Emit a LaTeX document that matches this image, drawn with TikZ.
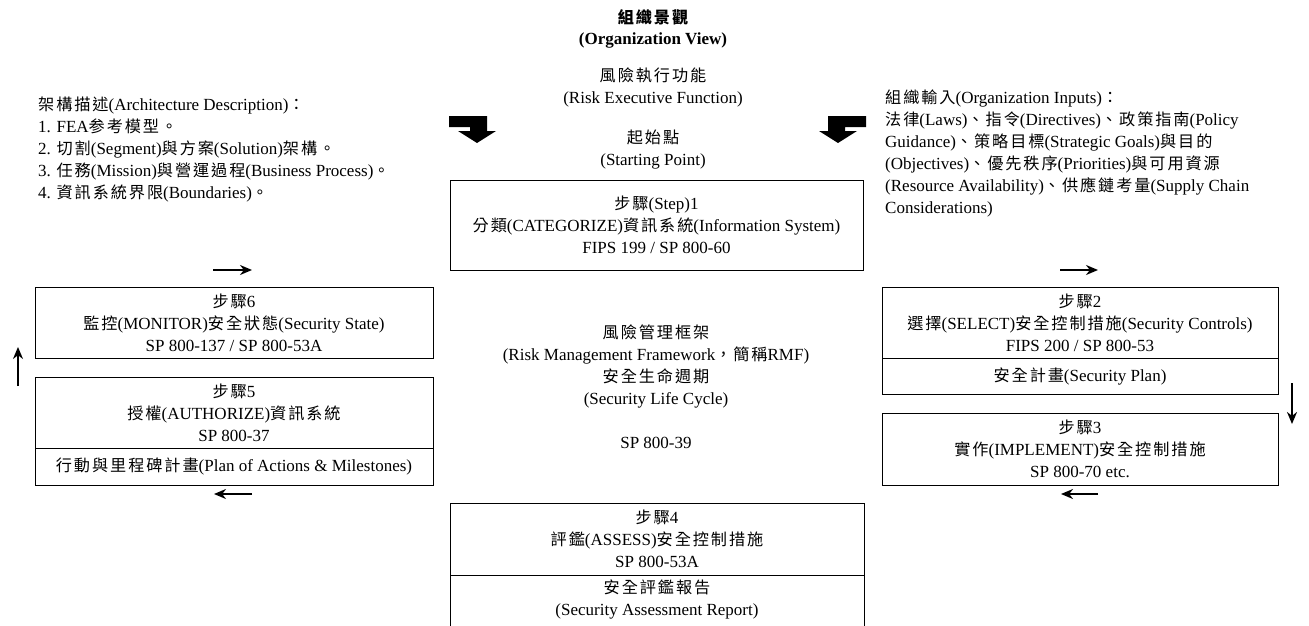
\documentclass[tikz,border=0pt]{standalone}
\usepackage{fontspec}
\setmainfont{Liberation Serif}
\newfontfamily\cjk{Noto Sans CJK TC}[Scale=0.95,LetterSpace=12]
\newcommand\C[1]{{\cjk #1}}
\usetikzlibrary{arrows.meta}
\begin{document}
\begin{tikzpicture}[x=1pt,y=-1pt,
  box/.style={draw=black, line width=1pt, inner sep=0pt, align=center, font=\fontsize{17}{22}\selectfont},
  txt/.style={inner sep=0pt, align=center, font=\fontsize{17}{22}\selectfont},
  ltxt/.style={inner sep=0pt, align=left, font=\fontsize{17}{22}\selectfont},
  flow/.style={line width=2.2pt, -{Stealth[length=12pt,width=10pt]}},
  bigarrow/.style={fill=black, draw=none}]
\useasboundingbox[fill=white] (0,0) rectangle (1309,626);

% titles
\node[txt, font=\fontsize{17}{21}\selectfont\bfseries] (title) at (653,29) {\C{組織景觀}\\(Organization View)};
\node[txt] (ref) at (653,87) {\C{風險執行功能}\\(Risk Executive Function)};
\node[txt] (start) at (653,150) {\C{起始點}\\(Starting Point)};

% thick arrows
\fill[bigarrow] (449,116) -- (487,116) -- (487,131) -- (496,131) -- (477,143) -- (458,131) -- (470,131) -- (470,127) -- (449,127) -- cycle;
\fill[bigarrow] (866,116) -- (828,116) -- (828,131) -- (819,131) -- (838,143) -- (857,131) -- (845,131) -- (845,127) -- (866,127) -- cycle;

% side texts
\node[ltxt, anchor=west] (arch) at (38,150) {\C{架構描述}(Architecture Description)\C{：}\\
1. FEA\C{参考模型。}\\
2. \C{切割}(Segment)\C{與方案}(Solution)\C{架構。}\\
3. \C{任務}(Mission)\C{與營運過程}(Business Process)\C{。}\\
4. \C{資訊系統界限}(Boundaries)\C{。}};
\node[ltxt, anchor=west] (inputs) at (885,153) {\C{組織輸入}(Organization Inputs)\C{：}\\
\C{法律}(Laws)\C{、指令}(Directives)\C{、政策指南}(Policy\\
Guidance)\C{、策略目標}(Strategic Goals)\C{與目的}\\
(Objectives)\C{、優先秩序}(Priorities)\C{與可用資源}\\
(Resource Availability)\C{、供應鏈考量}(Supply Chain\\
Considerations)};

% step boxes
\node[box, minimum width=413pt, minimum height=90pt] (s1) at (656.5,225) {\C{步驟}(Step)1\\\C{分類}(CATEGORIZE)\C{資訊系統}(Information System)\\FIPS 199 / SP 800-60};

\node[box, minimum width=398pt, minimum height=71pt] (s6) at (234,322.5) {\C{步驟}6\\\C{監控}(MONITOR)\C{安全狀態}(Security State)\\SP 800-137 / SP 800-53A};
\node[box, minimum width=398pt, minimum height=71pt] (s5) at (234,412.5) {\C{步驟}5\\\C{授權}(AUTHORIZE)\C{資訊系統}\\SP 800-37};
\node[box, minimum width=398pt, minimum height=37pt] (s5b) at (234,466.5) {\C{行動與里程碑計畫}(Plan of Actions \& Milestones)};

\node[box, minimum width=396pt, minimum height=71pt] (s2) at (1080,322.5) {\C{步驟}2\\\C{選擇}(SELECT)\C{安全控制措施}(Security Controls)\\FIPS 200 / SP 800-53};
\node[box, minimum width=396pt, minimum height=36pt] (s2b) at (1080,376) {\C{安全計畫}(Security Plan)};
\node[box, minimum width=396pt, minimum height=72pt] (s3) at (1080,449) {\C{步驟}3\\\C{實作}(IMPLEMENT)\C{安全控制措施}\\SP 800-70 etc.};

\node[box, minimum width=414pt, minimum height=72pt] (s4) at (657,539) {\C{步驟}4\\\C{評鑑}(ASSESS)\C{安全控制措施}\\SP 800-53A};
\node[box, minimum width=414pt, minimum height=75pt] (s4b) at (657,612.5) {};
\node[txt] (s4t) at (657,599) {\C{安全評鑑報告}\\(Security Assessment Report)};

% center text
\node[txt] (rmf) at (656,387) {\C{風險管理框架}\\(Risk Management Framework\C{，簡稱}RMF)\\\C{安全生命週期}\\(Security Life Cycle)\\[22pt]SP 800-39};

% small flow arrows
\coordinate (a1s) at (213,270); \coordinate (a1e) at (252,270);
\coordinate (a2s) at (1060,270); \coordinate (a2e) at (1098,270);
\coordinate (a3s) at (1292,383); \coordinate (a3e) at (1292,424);
\coordinate (a4s) at (1098,494); \coordinate (a4e) at (1061,494);
\coordinate (a5s) at (252,494); \coordinate (a5e) at (214,494);
\coordinate (a6s) at (18,386); \coordinate (a6e) at (18,347);
\draw[flow] (a1s) -- (a1e);
\draw[flow] (a2s) -- (a2e);
\draw[flow] (a3s) -- (a3e);
\draw[flow] (a4s) -- (a4e);
\draw[flow] (a5s) -- (a5e);
\draw[flow] (a6s) -- (a6e);
\end{tikzpicture}
\end{document}
